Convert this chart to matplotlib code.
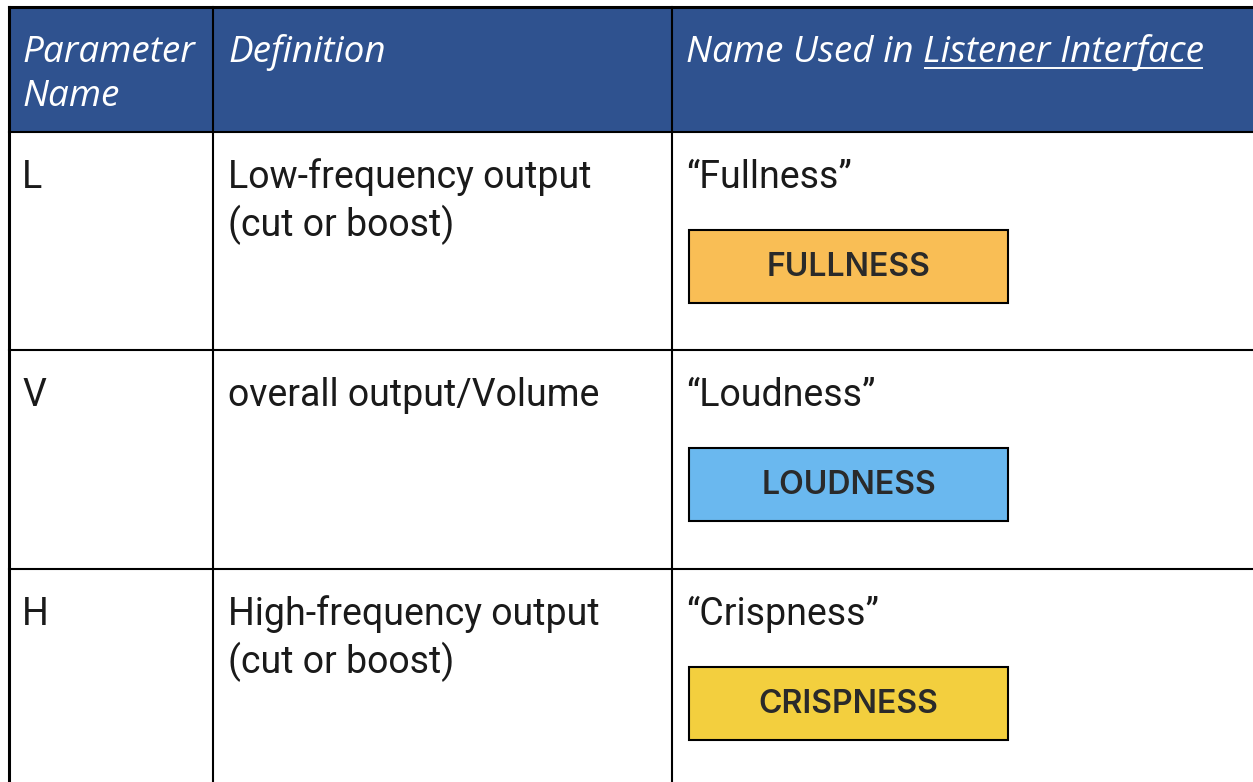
import matplotlib
matplotlib.use("Agg")
import matplotlib.pyplot as plt
from matplotlib.patches import Rectangle

header_lines = [["Parameter", "Name"], ["Definition"], ["Name Used in "]]
header_link = "Listener Interface"
params = ["L", "V", "H"]
definitions = [["Low-frequency output", "(cut or boost)"], ["overall output/Volume"],
               ["High-frequency output", "(cut or boost)"]]
names = ["\u201cFullness\u201d", "\u201cLoudness\u201d", "\u201cCrispness\u201d"]
buttons = ["FULLNESS", "LOUDNESS", "CRISPNESS"]
button_colors = ["#F9BE55", "#6AB8EF", "#F3CF3E"]

W, H = 1253, 782
fig = plt.figure(figsize=(W / 100, H / 100), dpi=100)
ax = fig.add_axes([0, 0, 1, 1])
ax.set_xlim(0, W)
ax.set_ylim(H, 0)
ax.axis("off")

col_x = [9, 213, 672, W + 5]
row_y = [7, 132, 350, 569, H + 5]
header_color = "#2F528F"

ax.add_patch(Rectangle((col_x[0], row_y[0]), W - col_x[0] + 5, row_y[1] - row_y[0],
                       facecolor=header_color, edgecolor="none", zorder=1))

lw_in = 1.5
lw_out = 2.2
ax.plot([col_x[0], W + 5], [row_y[0], row_y[0]], color="black", lw=lw_out, zorder=3)
for y in row_y[1:4]:
    ax.plot([col_x[0], W + 5], [y, y], color="black", lw=lw_in, zorder=3)
ax.plot([col_x[0], col_x[0]], [row_y[0], H + 5], color="black", lw=lw_out, zorder=3)
for x in col_x[1:3]:
    ax.plot([x, x], [row_y[0], H + 5], color="black", lw=lw_in, zorder=3)

hfont = dict(family=["Open Sans", "DejaVu Sans"], style="italic", fontsize=26.6, color="white")
h_base = [62, 106]
h_x = [col_x[0] + 13, col_x[1] + 15, col_x[2] + 14]
last = None
for c in range(3):
    for j, line in enumerate(header_lines[c]):
        t = ax.text(h_x[c], h_base[j], line, va="baseline", ha="left", zorder=4, **hfont)
        if c == 2:
            last = t
fig.canvas.draw()
r = fig.canvas.get_renderer()
inv = ax.transData.inverted()
bb = last.get_window_extent(r)
x_end = inv.transform((bb.x1, bb.y0))[0]
t2 = ax.text(x_end, h_base[0], header_link, va="baseline", ha="left", zorder=4, **hfont)
fig.canvas.draw()
bb2 = t2.get_window_extent(r)
xa = inv.transform((bb2.x0, bb2.y0))[0]
xb = inv.transform((bb2.x1, bb2.y0))[0]
ax.plot([xa + 2, xb - 2], [68, 68], color="white", lw=1.4, zorder=4)

bfont = dict(family=["Roboto", "DejaVu Sans"], fontsize=27, color="#1a1a1a")
b_off = [56, 104]
for i in range(3):
    top = row_y[i + 1]
    ax.text(col_x[0] + 13, top + b_off[0], params[i], va="baseline", ha="left", zorder=4, **bfont)
    for j, line in enumerate(definitions[i]):
        ax.text(col_x[1] + 15, top + b_off[j], line, va="baseline", ha="left", zorder=4, **bfont)
    ax.text(col_x[2] + 14, top + b_off[0], names[i], va="baseline", ha="left", zorder=4, **bfont)
    bx0, by0, bw, bh = 689, top + 98, 319, 73
    ax.add_patch(Rectangle((bx0, by0), bw, bh, facecolor=button_colors[i],
                           edgecolor="black", lw=1.5, zorder=4))
    ax.text(bx0 + bw / 2, by0 + bh / 2 + 1, buttons[i], ha="center", va="center",
            family=["Inter", "DejaVu Sans"], fontweight="semibold", fontsize=23,
            color="#2a2a2a", zorder=5)

fig.savefig("out.png", dpi=100, facecolor="white")
